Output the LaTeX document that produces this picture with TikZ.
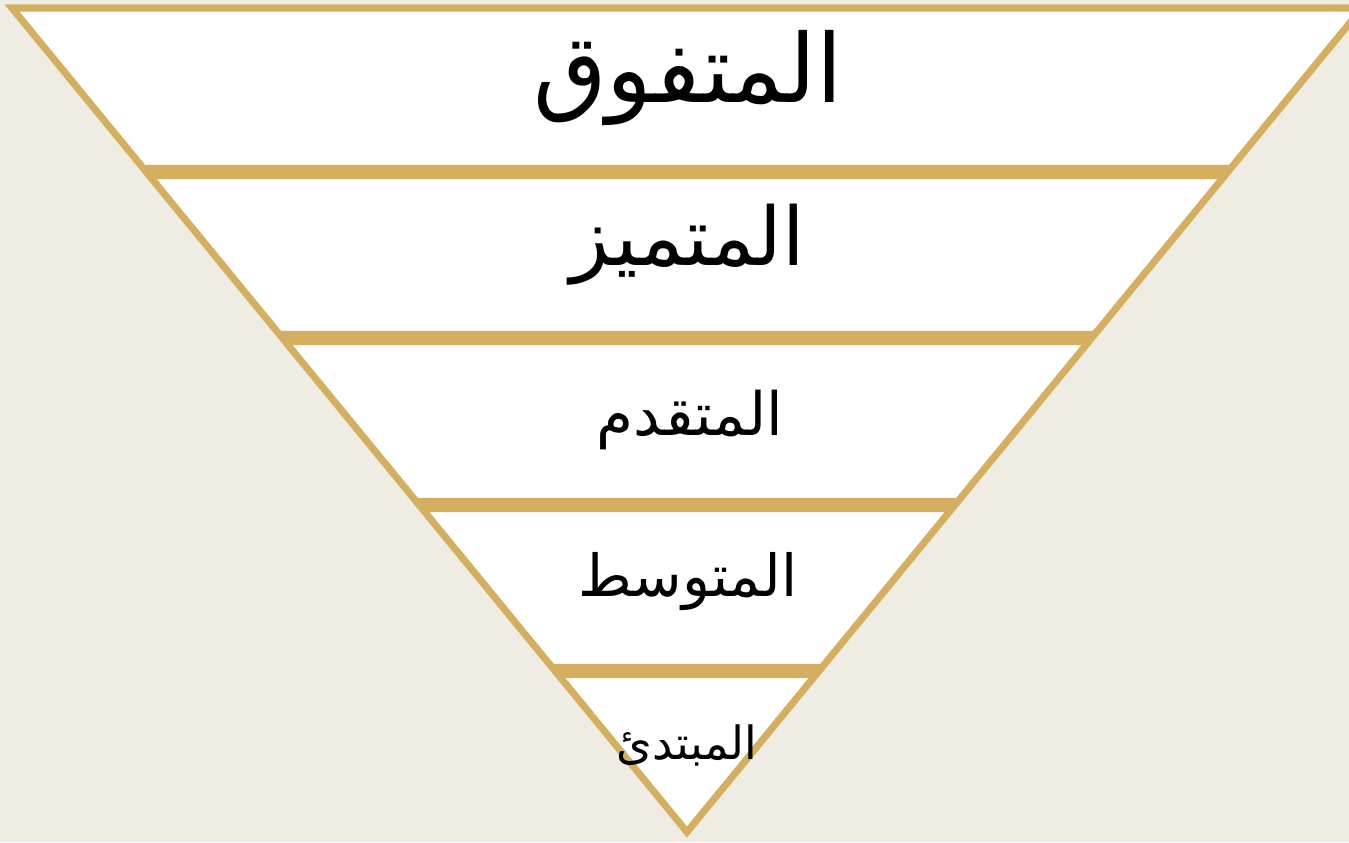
\documentclass[tikz,border=0pt]{standalone}
\usepackage{fontspec}
\newfontfamily\arabicfont[Script=Arabic]{DejaVu Sans}
\TeXXeTstate=1
\definecolor{bandgold}{HTML}{D3AF5F}
\definecolor{pagebeige}{HTML}{EFECE3}
\begin{document}
\begin{tikzpicture}[x=0.01cm, y=-0.01cm,
  band/.style={draw=bandgold, fill=white, line width=2pt},
  level/.style={font=\arabicfont, text=black, inner sep=0pt}]
\useasboundingbox (0,0) rectangle (1349,842);
\fill[pagebeige] (0,0) rectangle (1349,842);
\clip (0,0) rectangle (1349,842);
% bands, top to bottom
\draw[band] (12,8) -- (1362,8) -- (1230.5,168.5) -- (143.5,168.5) -- cycle;
\draw[band] (149.2,175.5) -- (1224.8,175.5) -- (1094.5,334.5) -- (279.5,334.5) -- cycle;
\draw[band] (285.2,341.5) -- (1088.8,341.5) -- (957.7,501.5) -- (416.3,501.5) -- cycle;
\draw[band] (422,508.5) -- (952,508.5) -- (821.8,667.5) -- (552.2,667.5) -- cycle;
\draw[band] (558,674.5) -- (816,674.5) -- (687,832) -- cycle;
% labels
\node[level, font=\arabicfont\fontsize{27pt}{32pt}\selectfont] (top) at (688,78) {\beginR المتفوق\endR};
\node[level, font=\arabicfont\fontsize{23pt}{28pt}\selectfont] (high) at (688,245) {\beginR المتميز\endR};
\node[level, font=\arabicfont\fontsize{17pt}{21pt}\selectfont] (mid) at (690,420) {\beginR المتقدم\endR};
\node[level, font=\arabicfont\fontsize{16.5pt}{20pt}\selectfont] (avg) at (688,582) {\beginR المتوسط\endR};
\node[level, font=\arabicfont\fontsize{13pt}{16pt}\selectfont] (base) at (687,745) {\beginR المبتدئ\endR};
\end{tikzpicture}
\end{document}
